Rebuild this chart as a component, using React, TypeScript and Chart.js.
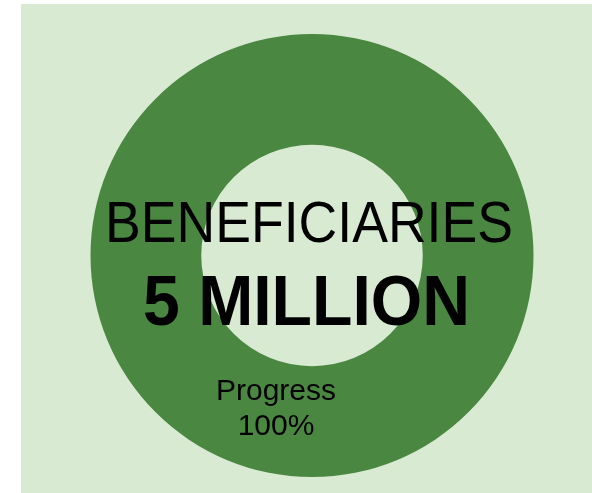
import React, { useEffect, useRef } from "react";
import { Chart, registerables } from "chart.js";

Chart.register(...registerables);

const categories = ["Progress"];
const values = [100];
const titleText = "BENEFICIARIES";
const valueText = "5 MILLION";
const progressLabel = "Progress";
const progressValue = "100%";

const DARK = "#4a8741";
const LIGHT = "#d9ead3";

const centerTextPlugin = {
  id: "centerText",
  afterDraw(chart: any) {
    const meta = chart.getDatasetMeta(0);
    const arc = meta.data[0];
    if (!arc) return;
    const cx = arc.x;
    const cy = arc.y;
    const ctx = chart.ctx;
    ctx.save();
    ctx.fillStyle = "#000000";
    ctx.textAlign = "center";
    ctx.textBaseline = "alphabetic";
    ctx.font = "58px 'Liberation Sans', Arial, sans-serif";
    ctx.fillText(titleText, cx - 3, cy - 13.5, 408);
    ctx.font = "bold 71px 'Liberation Sans', Arial, sans-serif";
    ctx.fillText(valueText, cx - 5.5, cy + 69.5, 327);
    ctx.font = "30px 'Liberation Sans', Arial, sans-serif";
    ctx.fillText(progressLabel, cx - 36, cy + 144.5);
    ctx.fillText(progressValue, cx - 36, cy + 179.5);
    ctx.restore();
  },
};

export default function App() {
  const ref = useRef<HTMLCanvasElement | null>(null);
  useEffect(() => {
    if (!ref.current) return;
    const chart = new Chart(ref.current, {
      type: "doughnut",
      data: {
        labels: categories,
        datasets: [
          {
            data: values,
            backgroundColor: [DARK],
            borderWidth: 0,
          },
        ],
      },
      options: {
        animation: false,
        responsive: false,
        cutout: "50%",
        layout: { padding: { left: 69.5, right: 58.5, top: 30, bottom: 16 } },
        plugins: {
          legend: { display: false },
          tooltip: { enabled: false },
          title: { display: false },
        },
      },
      plugins: [centerTextPlugin],
    });
    return () => chart.destroy();
  }, []);
  return (
    <div
      style={{
        position: "absolute",
        left: 21,
        top: 4,
        width: 571,
        height: 489,
        background: LIGHT,
      }}
    >
      <canvas ref={ref} width={571} height={489} style={{ display: "block" }} />
    </div>
  );
}
